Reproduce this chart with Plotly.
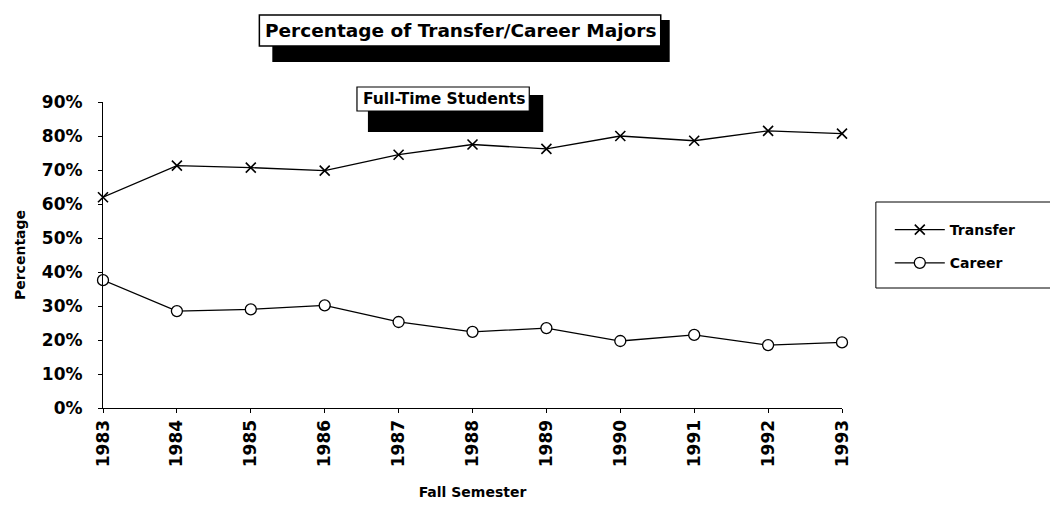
import plotly.graph_objects as go

years = [1983, 1984, 1985, 1986, 1987, 1988, 1989, 1990, 1991, 1992, 1993]
transfer = [62.0, 71.3, 70.7, 69.8, 74.5, 77.5, 76.2, 80.0, 78.6, 81.5, 80.7]
career = [37.6, 28.5, 29.0, 30.2, 25.3, 22.4, 23.5, 19.7, 21.5, 18.5, 19.3]
y_ticks = [0, 10, 20, 30, 40, 50, 60, 70, 80, 90]

title_text = "Percentage of Transfer/Career Majors"
subtitle_text = "Full-Time Students"

W, H = 1058, 505
OFF = 8  # page body margin
L, R, T, B = 92, 224, 94, 105
PW, PH = W - L - R, H - T - B

def xp(px):
    return (px - OFF - L) / PW

def yp(py):
    return (H - B - (py - OFF)) / PH

FONT = "DejaVu Sans"

fig = go.Figure()
fig.add_trace(go.Scatter(
    x=years, y=transfer, name="Transfer", mode="lines+markers",
    line=dict(color="black", width=1.3),
    marker=dict(symbol="x-thin-open", size=10, color="black",
                line=dict(color="black", width=1.6)),
    cliponaxis=False, legendgroup="a",
))
fig.add_trace(go.Scatter(
    x=years, y=career, name="Career", mode="lines+markers",
    line=dict(color="black", width=1.3),
    marker=dict(symbol="circle", size=11, color="white",
                line=dict(color="black", width=1.3)),
    cliponaxis=False, legendgroup="b",
))

shapes = []
# title shadow + box
shapes.append(dict(type="rect", xref="paper", yref="paper",
                   x0=xp(270), x1=xp(669), y0=yp(62), y1=yp(20),
                   fillcolor="black", line=dict(width=0), layer="above"))
shapes.append(dict(type="rect", xref="paper", yref="paper",
                   x0=xp(257), x1=xp(660), y0=yp(46), y1=yp(15),
                   fillcolor="white", line=dict(color="black", width=1.5), layer="above"))
# subtitle shadow + box
shapes.append(dict(type="rect", xref="paper", yref="paper",
                   x0=xp(366), x1=xp(542), y0=yp(132), y1=yp(95),
                   fillcolor="black", line=dict(width=0), layer="above"))
shapes.append(dict(type="rect", xref="paper", yref="paper",
                   x0=xp(355), x1=xp(528), y0=yp(111), y1=yp(87),
                   fillcolor="white", line=dict(color="black", width=1.2), layer="above"))
# legend border (right side runs off the page, as in the scan)
shapes.append(dict(type="rect", xref="paper", yref="paper",
                   x0=xp(876), x1=xp(1200), y0=yp(288), y1=yp(202),
                   fillcolor="rgba(0,0,0,0)", line=dict(color="black", width=1), layer="above"))

annotations = [
    dict(text=title_text, xref="paper", yref="paper", x=xp(459), y=yp(31),
         xanchor="center", yanchor="middle", showarrow=False,
         font=dict(family=FONT, size=18.5, color="black", weight="bold")),
    dict(text=subtitle_text, xref="paper", yref="paper", x=xp(442), y=yp(99),
         xanchor="center", yanchor="middle", showarrow=False,
         font=dict(family=FONT, size=15.5, color="black", weight="bold")),
]

fig.update_layout(
    width=W, height=H,
    margin=dict(l=L, r=R, t=T, b=B),
    paper_bgcolor="white", plot_bgcolor="white",
    shapes=shapes, annotations=annotations,
    showlegend=True,
    legend=dict(x=xp(890), y=yp(214), xanchor="left", yanchor="top",
                font=dict(family=FONT, size=14, color="black", weight="bold"),
                bgcolor="rgba(0,0,0,0)", borderwidth=0, tracegroupgap=12,
                itemwidth=50),
    font=dict(family=FONT, color="black"),
)
fig.update_xaxes(
    range=[1983, 1993], tickvals=years, ticktext=[str(y) for y in years],
    tickangle=-90, showline=True, linecolor="black", linewidth=1.2,
    ticks="outside", ticklen=4, tickcolor="black", showgrid=False, zeroline=False,
    tickfont=dict(family=FONT, size=17, color="black", weight="bold"),
    title=dict(text="Fall Semester", standoff=20,
               font=dict(family=FONT, size=14, color="black", weight="bold")),
)
fig.update_yaxes(
    range=[0, 90], tickvals=y_ticks, ticktext=[f"{v}%" for v in y_ticks],
    showline=True, linecolor="black", linewidth=1.2,
    ticks="outside", ticklen=4, tickcolor="black", showgrid=False, zeroline=False,
    ticklabelstandoff=12,
    tickfont=dict(family=FONT, size=17, color="black", weight="bold"),
    title=dict(text="Percentage", standoff=12,
               font=dict(family=FONT, size=14, color="black", weight="bold")),
)

fig.write_html("out.html")
